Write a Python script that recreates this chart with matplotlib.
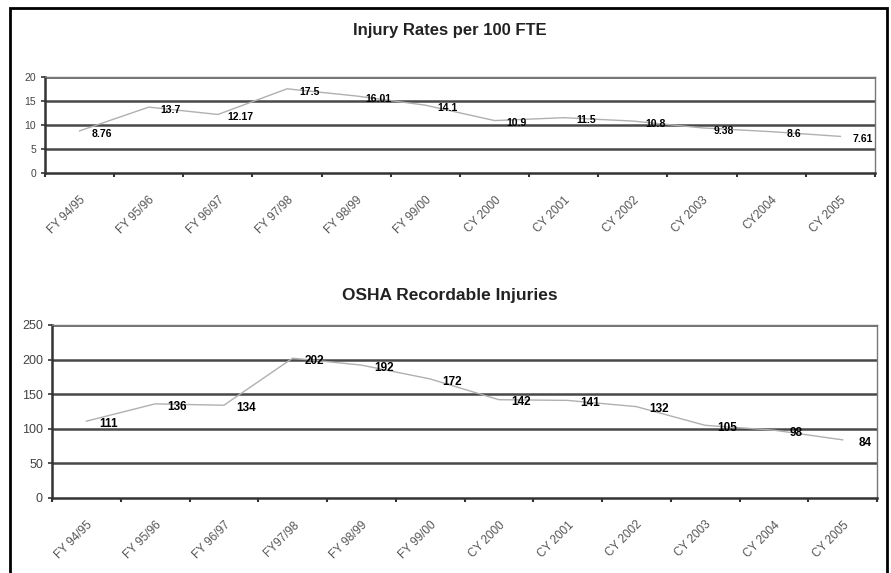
import matplotlib.pyplot as plt
from matplotlib.patches import Rectangle
from matplotlib.transforms import ScaledTranslation

# data
top_labels = ['FY 94/95', 'FY 95/96', 'FY 96/97', 'FY 97/98', 'FY 98/99', 'FY 99/00',
              'CY 2000', 'CY 2001', 'CY 2002', 'CY 2003', 'CY2004', 'CY 2005']
rates = [8.76, 13.7, 12.17, 17.5, 16.01, 14.1, 10.9, 11.5, 10.8, 9.38, 8.6, 7.61]
rate_text = ['8.76', '13.7', '12.17', '17.5', '16.01', '14.1', '10.9', '11.5', '10.8', '9.38', '8.6', '7.61']

bottom_labels = ['FY 94/95', 'FY 95/96', 'FY 96/97', 'FY97/98', 'FY 98/99', 'FY 99/00',
                 'CY 2000', 'CY 2001', 'CY 2002', 'CY 2003', 'CY 2004', 'CY 2005']
injuries = [111, 136, 134, 202, 192, 172, 142, 141, 132, 105, 98, 84]

plt.rcParams['font.family'] = ['Liberation Sans', 'DejaVu Sans']

fig = plt.figure(figsize=(8.91, 5.73), dpi=100)
# outer frame of the scan
fig.patches.append(Rectangle((10 / 891, -0.05), 877 / 891, 1.05 - 8 / 573, transform=fig.transFigure,
                             fill=False, edgecolor='black', linewidth=2))


def draw(ax, labels, values, texts, ymax, ystep, title, title_y, tsize, ysize, lsize):
    n = len(values)
    x = [i + 0.5 for i in range(n)]
    ax.set_xlim(0, n)
    ax.set_ylim(0, ymax)
    ax.set_yticks(range(0, ymax + 1, ystep))
    for v in range(ystep, ymax + 1, ystep):
        ax.axhline(v, color='#484848', linewidth=1.8, zorder=1)
    ax.plot(x, values, '-', color='#b0b0b0', linewidth=1.0, zorder=2)
    for xi, v, t in zip(x, values, texts):
        ax.annotate(t, (xi, v), xytext=(16, -2), textcoords='offset points',
                    ha='center', va='center', fontsize=lsize, fontweight='bold',
                    fontstretch='condensed', zorder=3)
    # tick marks on category boundaries, labels at the centres
    ax.set_xticks(range(n + 1), minor=True)
    ax.set_xticks(x)
    ax.set_xticklabels(labels, rotation=45, ha='right', rotation_mode='anchor',
                       fontsize=8.5, color='#555555')
    shift = ScaledTranslation(-6 / 100, 0, fig.dpi_scale_trans)
    for lab in ax.get_xticklabels():
        lab.set_transform(lab.get_transform() + shift)
    ax.tick_params(axis='x', which='major', length=0, pad=15)
    ax.tick_params(axis='x', which='minor', length=3, width=1.5, color='#333333', direction='out')
    ax.tick_params(axis='y', length=3, width=1.2, color='#333333', labelsize=ysize, labelcolor='#444444')
    for s in ['left', 'bottom']:
        ax.spines[s].set_color('#333333')
        ax.spines[s].set_linewidth(1.8)
    for s in ['top', 'right']:
        ax.spines[s].set_color('#777777')
        ax.spines[s].set_linewidth(1.0)
    fig.text(0.505, title_y, title, ha='center', va='center', fontsize=tsize, fontweight='bold',
             color='#222222')


ax1 = fig.add_axes([45 / 891, 0.698, 830 / 891, 0.168])
draw(ax1, top_labels, rates, rate_text, 20, 5, 'Injury Rates per 100 FTE', 0.946, 12, 7.5, 7.5)

ax2 = fig.add_axes([52 / 891, 0.1309, 825 / 891, 0.302])
draw(ax2, bottom_labels, injuries, [str(v) for v in injuries], 250, 50,
     'OSHA Recordable Injuries', 0.484, 12.5, 9, 8.5)

plt.savefig('out.png', dpi=100)
